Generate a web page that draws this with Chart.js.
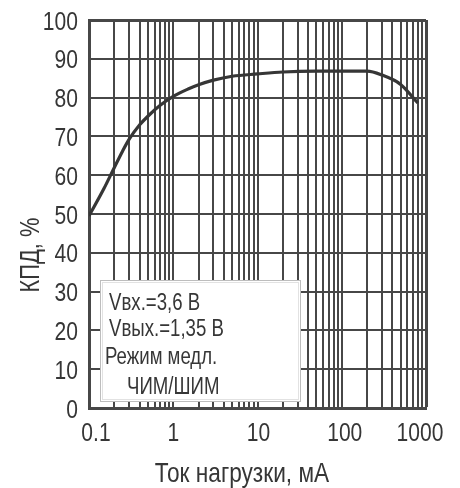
<!DOCTYPE html>
<html lang="ru">
<head>
<meta charset="utf-8">
<title>КПД</title>
<script src="https://cdn.jsdelivr.net/npm/chart.js@4.4.0/dist/chart.umd.min.js"></script>
<style>
  html, body { margin: 0; padding: 0; background: #fff; }
  #wrap { width: 460px; height: 488px; position: relative; }
</style>
</head>
<body>
<div id="wrap"><canvas id="chart" width="460" height="488"></canvas></div>
<script>
// --- Data ---
const loadCurrent = [0.1, 0.15, 0.2, 0.25, 0.3, 0.4, 0.5, 0.7, 1, 1.5, 2, 3, 5, 10, 20, 50, 100, 200, 300, 500, 800];
const efficiency = [49.5, 56.5, 62, 66.2, 69.3, 73, 75.2, 78, 80.3, 82.2, 83.3, 84.5, 85.5, 86.1, 86.6, 86.8, 86.8, 86.8, 85.8, 83.4, 78.6];
const xGridValues = [
  0.1, 0.2, 0.3, 0.4, 0.5, 0.6, 0.7, 0.8, 0.9,
  1, 2, 3, 4, 5, 6, 7, 8, 9,
  10, 20, 30, 40, 50, 60, 70, 80, 90,
  100, 200, 300, 400, 500, 600, 700, 800, 900, 1000
];
const xTickValues = [0.1, 1, 10, 100, 1000];
const xTickLabels = ["0.1", "1", "10", "100", "1000"];
const yTickValues = [0, 10, 20, 30, 40, 50, 60, 70, 80, 90, 100];
const noteLines = ["Vвх.=3,6 В", "Vвых.=1,35 В", "Режим медл.", "ЧИМ/ШИМ"];
const yTitle = "КПД, %";
const xTitle = "Ток нагрузки, мА";

const FONT = "'Liberation Sans', Arial, sans-serif";
const SQUEEZE = 0.81; // condensed look, like the original typeface
const INK = "#363636";
const GRID = "#474747";

// draws text horizontally squeezed so it reads like a narrow face
function narrowText(ctx, text, x, y, size, align) {
  ctx.save();
  ctx.font = size + "px " + FONT;
  ctx.textAlign = align;
  ctx.textBaseline = "alphabetic";
  ctx.translate(x, y);
  ctx.scale(SQUEEZE, 1);
  ctx.fillText(text, 0, 0);
  ctx.restore();
}

// --- Extra drawing: tick labels, note box and axis titles ---
const extrasPlugin = {
  id: "extras",
  afterDraw(chart) {
    const ctx = chart.ctx;
    const xs = chart.scales.x;
    const ys = chart.scales.y;
    ctx.save();
    ctx.fillStyle = INK;

    // tick labels
    yTickValues.forEach(v => {
      narrowText(ctx, String(v), 78, ys.getPixelForValue(v) + 9.5, 26, "right");
    });
    const nudge = [7, 0, 1, 3, -6];
    xTickValues.forEach((v, i) => {
      narrowText(ctx, xTickLabels[i], xs.getPixelForValue(v) + nudge[i], 441, 26, "center");
    });

    // note box
    ctx.fillStyle = "#fff";
    ctx.fillRect(100, 280, 201, 122);
    ctx.lineWidth = 1;
    ctx.strokeStyle = "#bdbdbd";
    ctx.strokeRect(100.5, 280.5, 200, 121);
    ctx.strokeStyle = "#e2e2e2";
    ctx.strokeRect(102.5, 282.5, 196, 117);

    ctx.fillStyle = INK;
    const noteX = [109, 109, 105, 127];
    const noteY = [310, 336, 364, 394];
    noteLines.forEach((line, i) => narrowText(ctx, line, noteX[i], noteY[i], 23, "left"));

    // axis titles
    ctx.save();
    ctx.translate(39, 255);
    ctx.rotate(-Math.PI / 2);
    narrowText(ctx, yTitle, 0, 0, 27, "center");
    ctx.restore();

    narrowText(ctx, xTitle, 242, 482, 28, "center");

    ctx.restore();
  }
};

// --- Chart ---
new Chart(document.getElementById("chart").getContext("2d"), {
  type: "line",
  data: {
    datasets: [
      {
        data: loadCurrent.map((x, i) => ({ x: x, y: efficiency[i] })),
        borderColor: INK,
        borderWidth: 3.2,
        pointRadius: 0,
        fill: false,
        cubicInterpolationMode: "monotone",
      },
    ],
  },
  options: {
    responsive: false,
    animation: false,
    events: [],
    layout: { padding: { left: 0, top: 20, right: 34, bottom: 0 } },
    plugins: { legend: { display: false }, tooltip: { enabled: false } },
    scales: {
      x: {
        type: "logarithmic",
        min: 0.1,
        max: 1000,
        afterBuildTicks: scale => {
          scale.ticks = xGridValues.map(v => ({ value: v }));
        },
        afterFit: scale => {
          scale.height = 80;
        },
        ticks: { display: false, autoSkip: false },
        grid: {
          color: GRID,
          lineWidth: ctx => (ctx.tick && ctx.tick.value === 1000 ? 3 : 2),
          drawTicks: false,
        },
        border: { color: GRID, width: 3 },
      },
      y: {
        min: 0,
        max: 100,
        afterBuildTicks: scale => {
          scale.ticks = yTickValues.map(v => ({ value: v }));
        },
        afterFit: scale => {
          scale.width = 89;
        },
        ticks: { display: false },
        grid: {
          color: GRID,
          lineWidth: ctx => (ctx.tick && ctx.tick.value === 100 ? 3 : 2),
          drawTicks: false,
        },
        border: { color: GRID, width: 3 },
      },
    },
  },
  plugins: [extrasPlugin],
});
</script>
</body>
</html>
